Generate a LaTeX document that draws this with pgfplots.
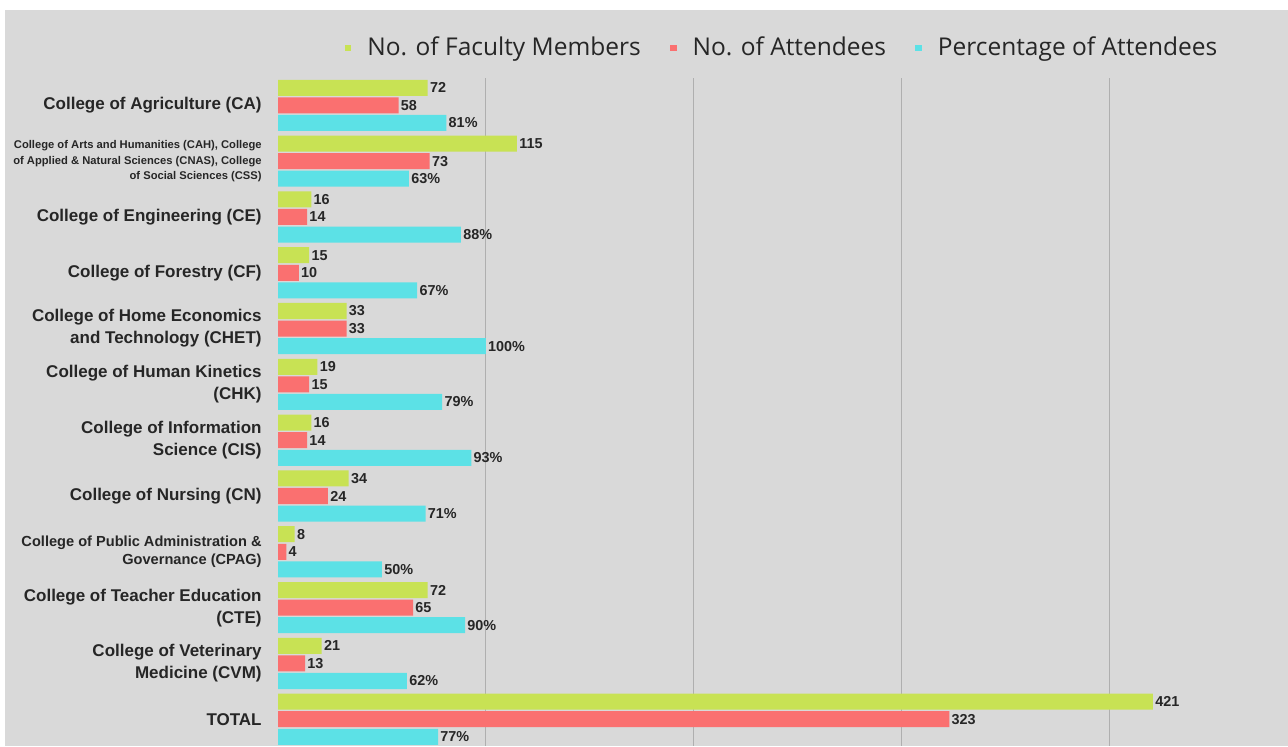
\documentclass[border=0pt]{standalone}
\usepackage{fontspec}
\setmainfont{Liberation Sans}
\newfontfamily\legfont{Open Sans}
\usepackage{pgfplots}
\pgfplotsset{compat=1.18}
\definecolor{cgreen}{RGB}{200,226,84}
\definecolor{cred}{RGB}{250,112,112}
\definecolor{ccyan}{RGB}{92,225,230}
\definecolor{bg}{RGB}{217,217,217}
\definecolor{txt}{RGB}{38,38,38}
\definecolor{gridc}{RGB}{175,175,175}
\pgfplotsset{lgd/.style={legend image code/.code={\fill[##1,draw=none] (0pt,-1.7pt) rectangle (3.4pt,1.7pt);}}}
\newcommand{\sm}{\fontsize{5.6}{7.8}\selectfont}
\newcommand{\md}{\fontsize{7.3}{9}\selectfont}
\begin{document}
\begin{tikzpicture}
\path[use as bounding box] (0pt,0pt) rectangle (644pt,373pt);
\fill[bg] (2.5pt,0pt) rectangle (644pt,368pt);
\begin{axis}[
  at={(139pt,0pt)}, anchor=south west,
  scale only axis, width=505pt, height=334pt,
  xmin=0, xmax=486, ymin=-0.49, ymax=11.48,
  y dir=reverse, clip=false,
  xbar, bar width=0.287,
  /pgf/number format/assume math mode=true,
  axis line style={draw=none},
  tick style={draw=none},
  major tick length=0pt,
  xtick={100,200,300,400}, xticklabels={},
  xmajorgrids, grid style={draw=gridc, line width=0.6pt},
  ytick={0,...,11},
  yticklabel style={align=right, inner sep=0pt, xshift=-8pt, text=txt,
    font=\bfseries\fontsize{8.5}{11}\selectfont},
  yticklabels={
    {College of Agriculture (CA)},
    {\sm College of Arts and Humanities (CAH), College\\[-3.2pt]\sm of Applied \& Natural Sciences (CNAS), College\\[-3.2pt]\sm of Social Sciences (CSS)},
    {College of Engineering (CE)},
    {College of Forestry (CF)},
    {College of Home Economics\\and Technology (CHET)},
    {College of Human Kinetics\\(CHK)},
    {College of Information\\Science (CIS)},
    {College of Nursing (CN)},
    {\md College of Public Administration \&\\[-2pt]\md Governance (CPAG)},
    {College of Teacher Education\\(CTE)},
    {College of Veterinary\\Medicine (CVM)},
    {TOTAL}
  },
  nodes near coords,
  every node near coord/.append style={font=\bfseries\fontsize{7.2}{8}\selectfont, text=txt, inner sep=1pt, anchor=west},
  legend style={at={(0.5,1)}, anchor=center, yshift=15pt, draw=none, fill=none,
    font=\legfont\fontsize{12.25}{14}\selectfont, text=txt,
    /tikz/every odd column/.append style={column sep=6pt},
    /tikz/every even column/.append style={column sep=12.5pt}},
  legend columns=3,
]
\addplot[fill=cgreen, draw=none, /pgf/bar shift=-0.315, lgd] coordinates {
 (72,0) (115,1) (16,2) (15,3) (33,4) (19,5) (16,6) (34,7) (8,8) (72,9) (21,10) (421,11)};
\addplot[fill=cred, draw=none, /pgf/bar shift=0, lgd] coordinates {
 (58,0) (73,1) (14,2) (10,3) (33,4) (15,5) (14,6) (24,7) (4,8) (65,9) (13,10) (323,11)};
\addplot[fill=ccyan, draw=none, /pgf/bar shift=0.315, lgd,
  nodes near coords={\pgfmathprintnumber{\pgfplotspointmeta}\%}] coordinates {
 (81,0) (63,1) (88,2) (67,3) (100,4) (79,5) (93,6) (71,7) (50,8) (90,9) (62,10) (77,11)};
\legend{No. of Faculty Members, No. of Attendees, Percentage of Attendees}
\end{axis}
\end{tikzpicture}
\end{document}
